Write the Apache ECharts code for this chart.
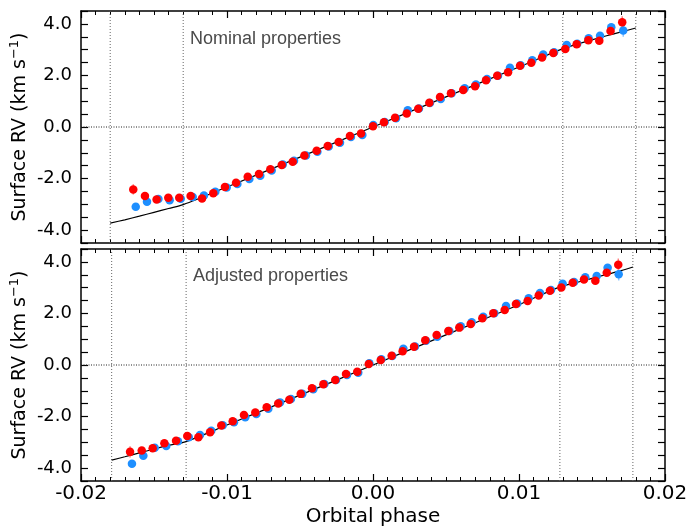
<!DOCTYPE html>
<html>
<head>
<meta charset="utf-8">
<script src="https://cdn.jsdelivr.net/npm/echarts@6/dist/echarts.min.js"></script>
<style>
  html, body { margin: 0; padding: 0; background: #fff; }
  #main { width: 689px; height: 528px; }
</style>
</head>
<body>
<div id="main"></div>
<script>
// ---- top panel : nominal properties ----
const phaseTopRed = [-0.01642, -0.01562, -0.01482, -0.01402, -0.01327, -0.01249, -0.01171, -0.01094, -0.01014, -0.00938, -0.00858,
  -0.00781, -0.00703, -0.00625, -0.00550, -0.00470, -0.00386, -0.00310, -0.00235, -0.00158, -0.00082, 0.00000,
  0.00075, 0.00151, 0.00231, 0.00310, 0.00386, 0.00459, 0.00534, 0.00618, 0.00699, 0.00774, 0.00851,
  0.00925, 0.01007, 0.01084, 0.01158, 0.01235, 0.01317, 0.01395, 0.01475, 0.01550, 0.01627, 0.01707];
const rvTopRed = [-2.42, -2.68, -2.81, -2.74, -2.74, -2.68, -2.77, -2.57, -2.33, -2.16, -1.93,
  -1.82, -1.64, -1.47, -1.35, -1.11, -0.92, -0.74, -0.58, -0.35, -0.25, 0.03,
  0.18, 0.36, 0.52, 0.71, 0.94, 1.16, 1.31, 1.44, 1.58, 1.81, 1.99,
  2.12, 2.38, 2.49, 2.70, 2.87, 3.03, 3.21, 3.37, 3.35, 3.72, 4.06];
const errTopRed = [0.20, 0.12, 0.10, 0.10, 0.10, 0.10, 0.09, 0.09, 0.08, 0.08, 0.08,
  0.08, 0.08, 0.08, 0.08, 0.08, 0.08, 0.08, 0.08, 0.08, 0.08, 0.08,
  0.08, 0.08, 0.08, 0.08, 0.08, 0.08, 0.08, 0.08, 0.08, 0.08, 0.08,
  0.08, 0.08, 0.08, 0.08, 0.09, 0.09, 0.10, 0.10, 0.10, 0.12, 0.24];

const phaseTopBlue = [-0.01625, -0.01548, -0.01470, -0.01393, -0.01317, -0.01235, -0.01158, -0.01080, -0.01002, -0.00929, -0.00847,
  -0.00772, -0.00694, -0.00618, -0.00541, -0.00459, -0.00381, -0.00303, -0.00226, -0.00151, -0.00073, 0.00002,
  0.00080, 0.00158, 0.00238, 0.00315, 0.00390, 0.00464, 0.00539, 0.00628, 0.00705, 0.00781, 0.00856,
  0.00938, 0.01011, 0.01091, 0.01166, 0.01240, 0.01327, 0.01399, 0.01477, 0.01555, 0.01632, 0.01714];
const rvTopBlue = [-3.09, -2.90, -2.79, -2.84, -2.78, -2.72, -2.66, -2.51, -2.35, -2.21, -2.02,
  -1.89, -1.69, -1.45, -1.31, -1.11, -0.96, -0.76, -0.61, -0.39, -0.31, 0.08,
  0.19, 0.34, 0.65, 0.72, 0.93, 1.09, 1.31, 1.50, 1.65, 1.86, 1.99,
  2.30, 2.40, 2.59, 2.81, 2.90, 3.18, 3.23, 3.44, 3.54, 3.87, 3.74];
const errTopBlue = [0.14, 0.10, 0.09, 0.09, 0.09, 0.08, 0.08, 0.08, 0.08, 0.08, 0.08,
  0.08, 0.08, 0.08, 0.08, 0.08, 0.08, 0.08, 0.08, 0.08, 0.08, 0.08,
  0.08, 0.08, 0.08, 0.08, 0.08, 0.08, 0.08, 0.08, 0.08, 0.08, 0.08,
  0.08, 0.08, 0.08, 0.08, 0.09, 0.09, 0.10, 0.10, 0.10, 0.12, 0.24];

const modelTopX = [-0.0180, -0.0170, -0.0160, -0.0150, -0.0140, -0.0130, -0.0100, -0.0050, 0.0000,
  0.0050, 0.0100, 0.0130, 0.0140, 0.0150, 0.0160, 0.0170, 0.0180];
const modelTopY = [-3.73, -3.60, -3.46, -3.31, -3.16, -3.01, -2.33, -1.17, 0.00,
  1.17, 2.33, 3.04, 3.22, 3.38, 3.54, 3.69, 3.84];
const contactsTop = [-0.0180, -0.0130, 0.0130, 0.0180];

// ---- bottom panel : adjusted properties ----
const phaseBotRed = [-0.01664, -0.01584, -0.01509, -0.01429, -0.01349, -0.01272, -0.01196, -0.01116, -0.01039, -0.00961, -0.00884,
  -0.00806, -0.00728, -0.00649, -0.00573, -0.00495, -0.00418, -0.00340, -0.00258, -0.00185, -0.00108, -0.00029,
  0.00053, 0.00128, 0.00203, 0.00281, 0.00358, 0.00436, 0.00516, 0.00591, 0.00669, 0.00749, 0.00824,
  0.00902, 0.00979, 0.01059, 0.01135, 0.01212, 0.01290, 0.01368, 0.01445, 0.01523, 0.01601, 0.01680];
const rvBotRed = [-3.37, -3.32, -3.23, -3.04, -2.94, -2.75, -2.80, -2.61, -2.35, -2.18, -1.94,
  -1.84, -1.64, -1.49, -1.35, -1.12, -0.90, -0.75, -0.58, -0.35, -0.26, 0.04,
  0.19, 0.36, 0.53, 0.71, 0.96, 1.16, 1.32, 1.45, 1.59, 1.81, 2.01,
  2.13, 2.37, 2.48, 2.70, 2.88, 3.01, 3.19, 3.32, 3.27, 3.58, 3.89];
const errBotRed = [0.22, 0.12, 0.10, 0.10, 0.10, 0.10, 0.09, 0.09, 0.08, 0.08, 0.08,
  0.08, 0.08, 0.08, 0.08, 0.08, 0.08, 0.08, 0.08, 0.08, 0.08, 0.08,
  0.08, 0.08, 0.08, 0.08, 0.08, 0.08, 0.08, 0.08, 0.08, 0.08, 0.08,
  0.08, 0.08, 0.08, 0.08, 0.09, 0.09, 0.10, 0.10, 0.10, 0.12, 0.24];

const phaseBotBlue = [-0.01651, -0.01573, -0.01495, -0.01416, -0.01336, -0.01262, -0.01185, -0.01108, -0.01029, -0.00952, -0.00875,
  -0.00799, -0.00717, -0.00637, -0.00562, -0.00484, -0.00409, -0.00333, -0.00253, -0.00178, -0.00101, -0.00025,
  0.00057, 0.00132, 0.00208, 0.00288, 0.00363, 0.00440, 0.00523, 0.00601, 0.00676, 0.00755, 0.00831,
  0.00911, 0.00988, 0.01066, 0.01144, 0.01219, 0.01299, 0.01377, 0.01454, 0.01532, 0.01607, 0.01683];
const rvBotBlue = [-3.83, -3.52, -3.21, -3.14, -2.96, -2.80, -2.72, -2.55, -2.34, -2.22, -2.03,
  -1.90, -1.70, -1.45, -1.32, -1.12, -0.94, -0.74, -0.58, -0.39, -0.30, 0.07,
  0.22, 0.35, 0.63, 0.72, 0.94, 1.10, 1.32, 1.50, 1.66, 1.87, 2.01,
  2.29, 2.39, 2.59, 2.79, 2.91, 3.15, 3.22, 3.40, 3.45, 3.77, 3.52];
const errBotBlue = [0.14, 0.10, 0.09, 0.09, 0.09, 0.08, 0.08, 0.08, 0.08, 0.08, 0.08,
  0.08, 0.08, 0.08, 0.08, 0.08, 0.08, 0.08, 0.08, 0.08, 0.08, 0.08,
  0.08, 0.08, 0.08, 0.08, 0.08, 0.08, 0.08, 0.08, 0.08, 0.08, 0.08,
  0.08, 0.08, 0.08, 0.08, 0.09, 0.09, 0.10, 0.10, 0.10, 0.12, 0.24];

const modelBotX = [-0.0179, -0.0170, -0.0160, -0.0150, -0.0140, -0.0128, -0.0100, -0.0050, 0.0000,
  0.0050, 0.0100, 0.0128, 0.0140, 0.0150, 0.0160, 0.0170, 0.0178];
const modelBotY = [-3.69, -3.56, -3.41, -3.26, -3.12, -2.97, -2.33, -1.17, 0.00,
  1.17, 2.34, 3.03, 3.21, 3.36, 3.51, 3.66, 3.80];
const contactsBot = [-0.0179, -0.0128, 0.0128, 0.0178];

// horizontal half-width of the phase error bars
const phaseErr = 0.00026;

const xRange = [-0.02, 0.02];
const yRange = [-4.5, 4.5];
const xTickLabels = ["-0.02", "-0.01", "0.00", "0.01", "0.02"];
const yTickLabels = ["-4.0", "-2.0", "0.0", "2.0", "4.0"];

const panelTitles = ["Nominal properties", "Adjusted properties"];

const RED = "#ff0000";
const BLUE = "#1e8fff";
const FONT = "DejaVu Sans";

let chartDom = document.getElementById("main");
let myChart = echarts.init(chartDom);

function zip(xs, ys, es) {
  return xs.map((x, i) => (es ? [x, ys[i], es[i]] : [x, ys[i]]));
}

function errorSeries(xi, yi, data, color) {
  return {
    type: "custom",
    xAxisIndex: xi,
    yAxisIndex: yi,
    silent: true,
    z: 3,
    encode: { x: 0, y: 1 },
    data: data,
    renderItem: function (params, api) {
      let x = api.value(0), y = api.value(1), e = api.value(2);
      let a = api.coord([x, y - e]), b = api.coord([x, y + e]);
      let c = api.coord([x - phaseErr, y]), d = api.coord([x + phaseErr, y]);
      return {
        type: "group",
        children: [
          { type: "line", shape: { x1: a[0], y1: a[1], x2: b[0], y2: b[1] }, style: { stroke: color, lineWidth: 1.5 } },
          { type: "line", shape: { x1: c[0], y1: c[1], x2: d[0], y2: d[1] }, style: { stroke: color, lineWidth: 1.5 } },
        ],
      };
    },
  };
}

function pointSeries(xi, yi, data, color, z) {
  return {
    type: "scatter",
    xAxisIndex: xi,
    yAxisIndex: yi,
    symbol: "circle",
    symbolSize: 8.5,
    silent: true,
    z: z,
    itemStyle: { color: color, opacity: 1 },
    data: data,
  };
}

function modelSeries(xi, yi, data) {
  return {
    type: "line",
    xAxisIndex: xi,
    yAxisIndex: yi,
    data: data,
    showSymbol: false,
    smooth: 0.3,
    silent: true,
    z: 2,
    lineStyle: { color: "#000", width: 1.2 },
  };
}

// dotted guide lines: contact phases (vertical) and zero velocity (horizontal)
function guideSeries(xi, yi, contacts) {
  let out = contacts.map((v) => ({
    type: "line",
    xAxisIndex: xi,
    yAxisIndex: yi,
    data: [[v, yRange[0]], [v, yRange[1]]],
    showSymbol: false,
    silent: true,
    z: 1,
    lineStyle: { color: "#666", type: [1, 2], width: 1 },
  }));
  out.push({
    type: "line",
    xAxisIndex: xi,
    yAxisIndex: yi,
    data: [[xRange[0], 0], [xRange[1], 0]],
    showSymbol: false,
    silent: true,
    z: 1,
    lineStyle: { color: "#222", type: [1, 1.5], width: 1 },
  });
  return out;
}

function xAxisPair(grid, showLabels) {
  let base = {
    type: "value",
    gridIndex: grid,
    min: xRange[0],
    max: xRange[1],
    interval: 0.01,
    splitLine: { show: false },
    axisLine: { show: true, onZero: false, lineStyle: { color: "#000", width: 1.5 } },
    axisTick: { show: true, inside: true, length: 7, lineStyle: { color: "#000", width: 1.2 } },
    minorTick: { show: true, splitNumber: 10, length: 4, lineStyle: { color: "#000", width: 1 } },
  };
  return [
    Object.assign({}, base, {
      position: "bottom",
      axisLabel: {
        show: showLabels,
        margin: 3,
        fontFamily: FONT,
        fontSize: 20,
        color: "#000",
        formatter: (v) => xTickLabels[Math.round((v + 0.02) / 0.01)],
      },
      name: showLabels ? "Orbital phase" : "",
      nameLocation: "middle",
      nameGap: 26,
      nameTextStyle: { fontFamily: FONT, fontSize: 20, color: "#000" },
    }),
    Object.assign({}, base, { position: "top", axisLabel: { show: false } }),
  ];
}

function yAxisPair(grid) {
  let base = {
    type: "value",
    gridIndex: grid,
    min: yRange[0],
    max: yRange[1],
    interval: 0.5,
    splitLine: { show: false },
    axisLine: { show: true, onZero: false, lineStyle: { color: "#000", width: 1.5 } },
    axisTick: { show: true, inside: true, length: 7, lineStyle: { color: "#000", width: 1.2 } },
  };
  return [
    Object.assign({}, base, {
      position: "left",
      axisLabel: {
        margin: 9,
        fontFamily: FONT,
        fontSize: 18,
        color: "#000",
        formatter: function (v) {
          let k = Math.round(v * 2);
          if (k % 4 !== 0) return "";
          return yTickLabels[(k + 8) / 4];
        },
      },
      name: "Surface RV (km s{sup|\u22121})",
      nameLocation: "middle",
      nameMoveOverlap: false,
      nameGap: 48,
      nameTextStyle: {
        fontFamily: FONT,
        fontSize: 19,
        color: "#000",
        rich: { sup: { fontFamily: FONT, fontSize: 13, color: "#000", verticalAlign: "top", padding: [0, 0, 12, 0] } },
      },
    }),
    Object.assign({}, base, { position: "right", axisLabel: { show: false } }),
  ];
}

let option = {
  backgroundColor: "#fff",
  animation: false,
  grid: [
    { left: 81, right: 24, top: 11, height: 232, containLabel: false, outerBoundsMode: "none" },
    { left: 81, right: 24, top: 249, height: 232, containLabel: false, outerBoundsMode: "none" },
  ],
  xAxis: xAxisPair(0, false).concat(xAxisPair(1, true)),
  yAxis: yAxisPair(0).concat(yAxisPair(1)),
  graphic: [
    { type: "text", left: 190, top: 30, style: { text: panelTitles[0], fontFamily: "Liberation Sans", fontSize: 18, fill: "#4a4a4a" } },
    { type: "text", left: 193, top: 267, style: { text: panelTitles[1], fontFamily: "Liberation Sans", fontSize: 18, fill: "#4a4a4a" } },
  ],
  series: [].concat(
    guideSeries(0, 0, contactsTop),
    [
      modelSeries(0, 0, zip(modelTopX, modelTopY)),
      errorSeries(0, 0, zip(phaseTopBlue, rvTopBlue, errTopBlue), "#8cc4ff"),
      pointSeries(0, 0, zip(phaseTopBlue, rvTopBlue), BLUE, 4),
      errorSeries(0, 0, zip(phaseTopRed, rvTopRed, errTopRed), "#ff8080"),
      pointSeries(0, 0, zip(phaseTopRed, rvTopRed), RED, 5),
    ],
    guideSeries(2, 2, contactsBot),
    [
      modelSeries(2, 2, zip(modelBotX, modelBotY)),
      errorSeries(2, 2, zip(phaseBotBlue, rvBotBlue, errBotBlue), "#8cc4ff"),
      pointSeries(2, 2, zip(phaseBotBlue, rvBotBlue), BLUE, 4),
      errorSeries(2, 2, zip(phaseBotRed, rvBotRed, errBotRed), "#ff8080"),
      pointSeries(2, 2, zip(phaseBotRed, rvBotRed), RED, 5),
    ]
  ),
};

option && myChart.setOption(option);
</script>
</body>
</html>
